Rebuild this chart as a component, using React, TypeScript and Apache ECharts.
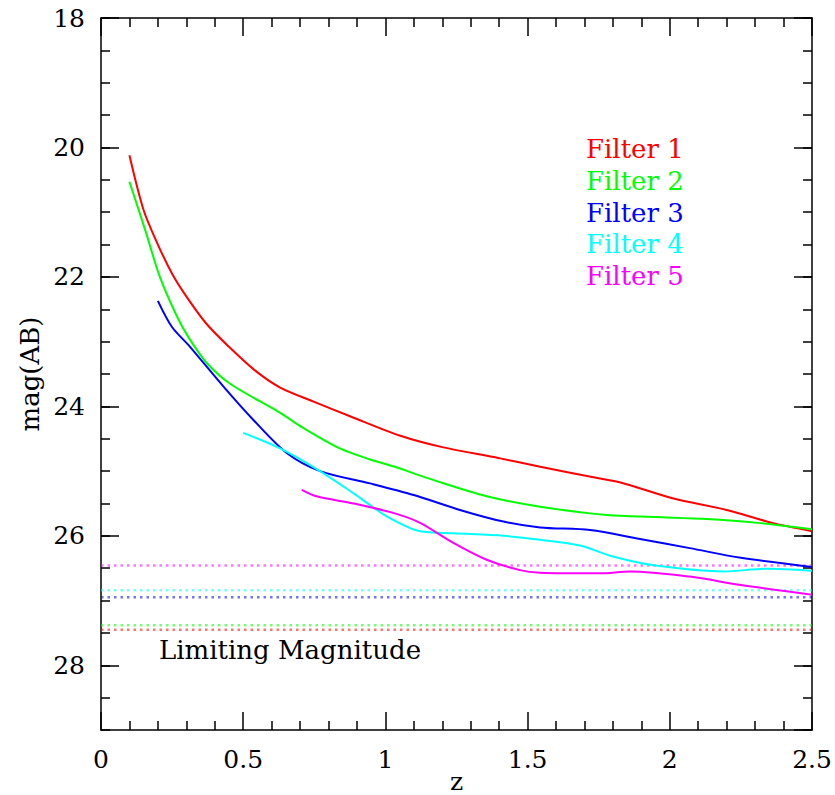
import React, { useEffect, useRef } from "react";
import * as echarts from "echarts";

const filterNames = ["Filter 1", "Filter 2", "Filter 3", "Filter 4", "Filter 5"];
const filterColors = ["#ff0000", "#00ff00", "#0000ff", "#00ffff", "#ff00ff"];

const f1z = [0.10, 0.15, 0.20, 0.25, 0.30, 0.37, 0.45, 0.54, 0.63, 0.75, 0.88, 1.05, 1.2, 1.4, 1.54, 1.75, 1.83, 2.01, 2.2, 2.36, 2.5];
const f1m = [20.12, 20.97, 21.50, 21.95, 22.30, 22.72, 23.08, 23.44, 23.71, 23.93, 24.16, 24.45, 24.63, 24.80, 24.93, 25.11, 25.18, 25.42, 25.60, 25.80, 25.93];

const f2z = [0.10, 0.155, 0.207, 0.266, 0.31, 0.372, 0.454, 0.63, 0.71, 0.84, 0.946, 1.03, 1.17, 1.356, 1.544, 1.78, 1.95, 2.13, 2.31, 2.5];
const f2m = [20.53, 21.27, 22.0, 22.6, 22.95, 23.33, 23.65, 24.1, 24.33, 24.65, 24.82, 24.93, 25.14, 25.39, 25.55, 25.68, 25.71, 25.74, 25.80, 25.90];

const f3z = [0.20, 0.249, 0.313, 0.43, 0.536, 0.653, 0.77, 0.946, 1.10, 1.262, 1.415, 1.544, 1.72, 1.895, 2.07, 2.25, 2.5];
const f3m = [22.37, 22.77, 23.08, 23.69, 24.21, 24.72, 25.0, 25.19, 25.37, 25.6, 25.78, 25.87, 25.91, 26.05, 26.19, 26.34, 26.48];

const f4z = [0.50, 0.63, 0.77, 0.887, 1.005, 1.122, 1.239, 1.415, 1.544, 1.684, 1.80, 1.95, 2.19, 2.34, 2.5];
const f4m = [24.41, 24.65, 25.0, 25.34, 25.70, 25.93, 25.96, 26.0, 26.06, 26.15, 26.32, 26.46, 26.55, 26.51, 26.54];

const f5z = [0.706, 0.758, 0.887, 1.03, 1.122, 1.239, 1.356, 1.473, 1.544, 1.755, 1.86, 2.07, 2.25, 2.5];
const f5m = [25.29, 25.39, 25.5, 25.65, 25.8, 26.11, 26.37, 26.53, 26.57, 26.58, 26.55, 26.63, 26.76, 26.91];

const limitingMags = [27.45, 27.38, 26.95, 26.84, 26.46];
const limitLabel = "Limiting Magnitude";

const zRange = [0, 2.5];
const magRange = [18, 29];

const FONT = "DejaVu Serif";

export default function App() {
  const ref = useRef<HTMLDivElement>(null);
  useEffect(() => {
    if (!ref.current) return;
    const chart = echarts.init(ref.current, null, { renderer: "svg" });
    const zs = [f1z, f2z, f3z, f4z, f5z];
    const ms = [f1m, f2m, f3m, f4m, f5m];
    const curveSeries = filterNames.map((name, i) => ({
      name,
      type: "line",
      data: zs[i].map((z, j) => [z, ms[i][j]]),
      showSymbol: false,
      smooth: 0.3,
      lineStyle: { color: filterColors[i], width: 2 },
      z: 3,
    }));
    const limitSeries = limitingMags.map((m, i) => ({
      name: "limit" + (i + 1),
      type: "line",
      data: [
        [zRange[0], m],
        [zRange[1], m],
      ],
      showSymbol: false,
      lineStyle: { color: filterColors[i], width: 2.5, type: [2.5, 4], opacity: 0.55 },
      z: 2,
    }));
    const black = "#000";
    const axisLine = { show: true, lineStyle: { color: black, width: 1.5 } };
    const labelStyle = { color: black, fontFamily: FONT, fontSize: 25 };
    const xBase = {
      type: "value",
      min: zRange[0],
      max: zRange[1],
      interval: 0.5,
      axisLine,
      axisTick: { show: true, inside: true, length: 18, lineStyle: { color: black, width: 1.5 } },
      minorTick: { show: true, splitNumber: 5, length: 9, lineStyle: { color: black, width: 1.5 } },
      splitLine: { show: false },
      minorSplitLine: { show: false },
    };
    const yMajor = {
      type: "value",
      min: magRange[0],
      max: magRange[1],
      interval: 2,
      inverse: true,
      axisLine,
      axisTick: { show: true, inside: true, length: 18, lineStyle: { color: black, width: 1.5 } },
      splitLine: { show: false },
    };
    const yMinor = {
      type: "value",
      min: magRange[0],
      max: magRange[1],
      interval: 0.5,
      inverse: true,
      axisLine: { show: false },
      axisTick: { show: true, inside: true, length: 9, lineStyle: { color: black, width: 1.5 } },
      axisLabel: { show: false },
      splitLine: { show: false },
    };
    const legendY0 = 149;
    const legendStep = 31.8;
    chart.setOption({
      animation: false,
      backgroundColor: "#fff",
      grid: { left: 101, right: 23, top: 18, bottom: 65, containLabel: false, outerBoundsMode: "none" },
      xAxis: [
        {
          ...xBase,
          position: "bottom",
          axisLabel: { ...labelStyle, margin: 17 },
          name: "z",
          nameLocation: "middle",
          nameGap: 41,
          nameMoveOverlap: false,
          nameTextStyle: { color: black, fontFamily: FONT, fontSize: 25, lineHeight: 20 },
        },
        { ...xBase, position: "top", axisLabel: { show: false } },
      ],
      yAxis: [
        {
          ...yMajor,
          position: "left",
          axisLabel: { ...labelStyle, margin: 16, showMaxLabel: false },
          name: "mag(AB)",
          nameLocation: "middle",
          nameRotate: 90,
          nameGap: 58,
          nameMoveOverlap: false,
          nameTextStyle: { color: black, fontFamily: FONT, fontSize: 26 },
        },
        { ...yMinor, position: "left" },
        { ...yMajor, position: "right", axisLabel: { show: false } },
        { ...yMinor, position: "right" },
      ],
      graphic: [
        ...filterNames.map((name, i) => ({
          type: "text",
          x: 586,
          y: legendY0 + i * legendStep,
          style: {
            text: name,
            fill: filterColors[i],
            font: `26px '${FONT}'`,
            verticalAlign: "middle",
            align: "left",
          },
          z: 10,
        })),
        {
          type: "text",
          x: 159,
          y: 650,
          style: {
            text: limitLabel,
            fill: black,
            font: `26px '${FONT}'`,
            verticalAlign: "middle",
            align: "left",
          },
          z: 10,
        },
      ],
      series: [...limitSeries, ...curveSeries],
    });
    return () => chart.dispose();
  }, []);
  return <div ref={ref} style={{ width: 835, height: 795, position: "absolute", left: 0, top: 0 }} />;
}
